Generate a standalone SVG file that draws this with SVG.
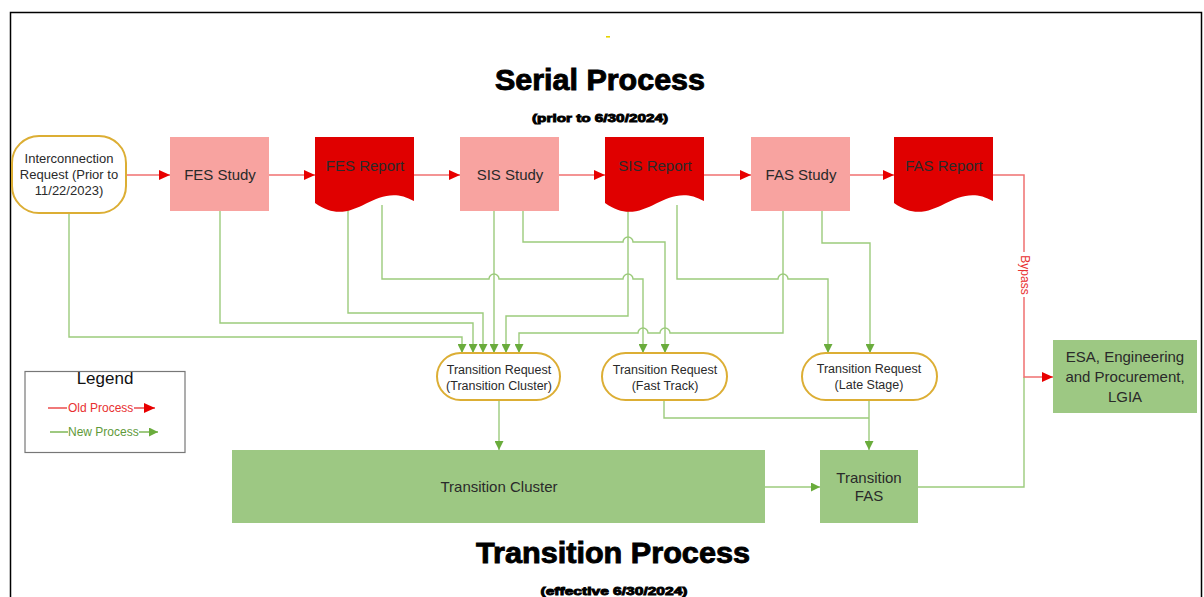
<svg xmlns="http://www.w3.org/2000/svg" width="1204" height="597" viewBox="0 0 1204 597">
<style>
.t{font-family:"Liberation Sans",Arial,sans-serif;fill:#2a2a2a;text-anchor:middle}
.g{fill:none;stroke:#9ccb7c;stroke-width:1.4}
.r{fill:none;stroke:#f07070;stroke-width:1.5}
.study{fill:#f8a3a0}
.rep{fill:#e00000}
.start{fill:#fff;stroke:#dcae34;stroke-width:2}
.box{fill:#9dc883}
.h{font-family:"Liberation Sans",Arial,sans-serif;font-weight:bold;fill:#000;text-anchor:middle;stroke:#000;stroke-width:0.9}
</style>
<defs>
<marker id="ag" markerUnits="userSpaceOnUse" markerWidth="9" markerHeight="9" refX="9" refY="4.5" orient="auto"><path d="M0,0 L9,4.5 L0,9 z" fill="#6aac3c"/></marker>
<marker id="ar" markerUnits="userSpaceOnUse" markerWidth="11" markerHeight="10" refX="11" refY="5" orient="auto"><path d="M0,0 L11,5 L0,10 z" fill="#e80000"/></marker>
</defs>
<rect width="1204" height="597" fill="#fff"/>
<rect x="10.5" y="12.5" width="1191" height="600" fill="none" stroke="#000" stroke-width="1.5"/>
<rect x="606" y="36" width="4" height="1.6" fill="#e6d400"/>
<text class="h" x="600" y="90" font-size="29" textLength="210" lengthAdjust="spacingAndGlyphs">Serial Process</text>
<text class="h" x="600" y="122" font-size="11.5" stroke-width="0.15" textLength="136" lengthAdjust="spacingAndGlyphs">(prior to 6/30/2024)</text>
<text class="h" x="613" y="563" font-size="29" textLength="274" lengthAdjust="spacingAndGlyphs">Transition Process</text>
<text class="h" x="614" y="595" font-size="11.5" stroke-width="0.15" textLength="147" lengthAdjust="spacingAndGlyphs">(effective 6/30/2024)</text>

<g id="connectors">
<path class="r" d="M126,175 H170" marker-end="url(#ar)"/>
<path class="r" d="M269,175 H315" marker-end="url(#ar)"/>
<path class="r" d="M414,175 H460" marker-end="url(#ar)"/>
<path class="r" d="M559,175 H605" marker-end="url(#ar)"/>
<path class="r" d="M704,175 H751" marker-end="url(#ar)"/>
<path class="r" d="M850,175 H894" marker-end="url(#ar)"/>
<path class="g" d="M918,487 H1024 V377"/>
<path class="r" d="M993,175 H1024 V377 H1053" marker-end="url(#ar)"/>
<rect x="1017" y="252" width="14" height="45" fill="#fff"/>
<text x="1024" y="275" font-family="Liberation Sans,Arial,sans-serif" font-size="12" fill="#e83030" text-anchor="middle" dominant-baseline="middle" transform="rotate(90 1024 275)">Bypass</text>

<path class="g" d="M69,213 V337 H462 V353" marker-end="url(#ag)"/>
<path class="g" d="M220,211 V323 H473 V353" marker-end="url(#ag)"/>
<path class="g" d="M348,205 V313 H483 V353" marker-end="url(#ag)"/>
<path class="g" d="M494,211 V353" marker-end="url(#ag)"/>
<path class="g" d="M628,205 V316 H506 V353" marker-end="url(#ag)"/>
<path class="g" d="M783,211 V333 H670 A5,5 0 0 0 660,333 H648 A5,5 0 0 0 638,333 H519 V353" marker-end="url(#ag)"/>
<path class="g" d="M382,205 V279 H489 A5,5 0 0 1 499,279 H623 A5,5 0 0 1 633,279 H643 V353" marker-end="url(#ag)"/>
<path class="g" d="M523,211 V242 H623 A5,5 0 0 1 633,242 H665 V353" marker-end="url(#ag)"/>
<path class="g" d="M677,205 V279 H778 A5,5 0 0 1 788,279 H828 V353" marker-end="url(#ag)"/>
<path class="g" d="M822,211 V243 H870 V353" marker-end="url(#ag)"/>
<path class="g" d="M499,400 V450" marker-end="url(#ag)"/>
<path class="g" d="M664,400 V418 H869"/>
<path class="g" d="M869,400 V450" marker-end="url(#ag)"/>
<path class="g" d="M765,487 H820" marker-end="url(#ag)"/>
</g>

<g id="interconnection-request">
<rect class="start" x="12" y="136" width="114" height="77" rx="27"/>
<text class="t" x="69" y="163" font-size="13">Interconnection</text>
<text class="t" x="69" y="179" font-size="13">Request (Prior to</text>
<text class="t" x="69" y="195" font-size="13">11/22/2023)</text>
</g>
<g id="fes-study"><rect class="study" x="170" y="137" width="99" height="74"/><text class="t" x="220" y="180" font-size="15">FES Study</text></g>
<g id="fes-report"><path class="rep" d="M315,137 H414 V201 C374,178 355,232 315,203 Z"/><text class="t" x="365" y="171" font-size="15">FES Report</text></g>
<g id="sis-study"><rect class="study" x="460" y="137" width="99" height="74"/><text class="t" x="510" y="180" font-size="15">SIS Study</text></g>
<g id="sis-report"><path class="rep" d="M605,137 H704 V201 C664,178 645,232 605,203 Z"/><text class="t" x="655" y="171" font-size="15">SIS Report</text></g>
<g id="fas-study"><rect class="study" x="751" y="137" width="99" height="74"/><text class="t" x="801" y="180" font-size="15">FAS Study</text></g>
<g id="fas-report"><path class="rep" d="M894,137 H993 V201 C953,178 934,232 894,203 Z"/><text class="t" x="944" y="171" font-size="15">FAS Report</text></g>

<g id="tr-cluster">
<rect class="start" x="437" y="353" width="123" height="47" rx="23.5"/>
<text class="t" x="499" y="374" font-size="12.5">Transition Request</text>
<text class="t" x="499" y="390" font-size="12.5">(Transition Cluster)</text>
</g>
<g id="tr-fast">
<rect class="start" x="602" y="353" width="125" height="47" rx="23.5"/>
<text class="t" x="665" y="374" font-size="12.5">Transition Request</text>
<text class="t" x="665" y="390" font-size="12.5">(Fast Track)</text>
</g>
<g id="tr-late">
<rect class="start" x="802" y="353" width="135" height="47" rx="23.5"/>
<text class="t" x="869" y="373" font-size="12.5">Transition Request</text>
<text class="t" x="869" y="389" font-size="12.5">(Late Stage)</text>
</g>
<g id="transition-cluster"><rect class="box" x="232" y="450" width="533" height="73"/><text class="t" x="499" y="492" font-size="15">Transition Cluster</text></g>
<g id="transition-fas"><rect class="box" x="820" y="450" width="98" height="73"/><text class="t" x="869" y="483" font-size="15">Transition</text><text class="t" x="869" y="501" font-size="15">FAS</text></g>
<g id="esa"><rect class="box" x="1053" y="340" width="144" height="73"/>
<text class="t" x="1125" y="362" font-size="15">ESA, Engineering</text>
<text class="t" x="1125" y="382" font-size="15">and Procurement,</text>
<text class="t" x="1125" y="402" font-size="15">LGIA</text></g>

<g id="legend">
<rect x="25" y="371.5" width="160" height="81" fill="#fff" stroke="#777" stroke-width="1.2"/>
<text x="105" y="384" font-family="Liberation Sans,Arial,sans-serif" font-size="17" fill="#111" text-anchor="middle">Legend</text>
<line x1="48" y1="408" x2="67" y2="408" stroke="#e83030" stroke-width="1.3"/>
<text x="68" y="412" font-family="Liberation Sans,Arial,sans-serif" font-size="12" fill="#e83030">Old Process</text>
<path d="M134,408 H155" stroke="#e83030" stroke-width="1.3" marker-end="url(#ar)"/>
<line x1="50" y1="432" x2="68" y2="432" stroke="#6aac3c" stroke-width="1.3"/>
<text x="68" y="436" font-family="Liberation Sans,Arial,sans-serif" font-size="12" fill="#5f9a3a">New Process</text>
<path d="M139,432 H158" stroke="#6aac3c" stroke-width="1.3" marker-end="url(#ag)"/>
</g>
</svg>
